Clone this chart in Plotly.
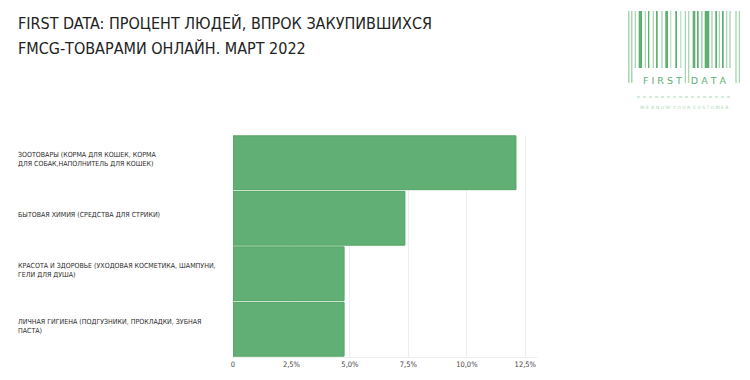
import plotly.graph_objects as go

# ---- data ----
categories = [
    "ЗООТОВАРЫ (КОРМА ДЛЯ КОШЕК, КОРМА<br>ДЛЯ СОБАК,НАПОЛНИТЕЛЬ ДЛЯ КОШЕК)",
    "БЫТОВАЯ ХИМИЯ (СРЕДСТВА ДЛЯ СТРИКИ)",
    "КРАСОТА И ЗДОРОВЬЕ (УХОДОВАЯ КОСМЕТИКА, ШАМПУНИ,<br>ГЕЛИ ДЛЯ ДУША)",
    "ЛИЧНАЯ ГИГИЕНА (ПОДГУЗНИКИ, ПРОКЛАДКИ, ЗУБНАЯ<br>ПАСТА)",
]
values = [12.1, 7.35, 4.75, 4.75]
tick_vals = [0, 2.5, 5.0, 7.5, 10.0, 12.5]
tick_text = ["0", "2,5%", "5,0%", "7,5%", "10,0%", "12,5%"]
title_lines = [
    "FIRST DATA: ПРОЦЕНТ ЛЮДЕЙ, ВПРОК ЗАКУПИВШИХСЯ",
    "FMCG-ТОВАРАМИ ОНЛАЙН. МАРТ 2022",
]

# ---- layout geometry ----
WIDTH, HEIGHT = 750, 380
L, R, T, B = 233, 213, 135, 23
PW = WIDTH - L - R
PH = HEIGHT - T - B

def px(x):
    return (x - L) / PW

def py(y):
    return (HEIGHT - B - y) / PH

FONT = "Liberation Sans Narrow, DejaVu Sans Condensed, Roboto Condensed, Arial Narrow, sans-serif"
GREEN = "#62AF75"
GREEN_LINE = "#52A565"
LOGO_DARK = "#5DB06F"
LOGO_LIGHT = "#A9D7B4"

fig = go.Figure()
fig.add_trace(go.Bar(
    x=values, y=categories, orientation="h",
    marker=dict(color=GREEN, line=dict(color=GREEN_LINE, width=1)),
    hoverinfo="x+y",
))

annotations = []
# title (two lines)
for line, yc in zip(title_lines, [23, 48]):
    annotations.append(dict(
        x=px(16), y=py(yc), xref="paper", yref="paper",
        text=line, showarrow=False, xanchor="left", yanchor="middle", align="left",
        font=dict(family=FONT, size=16, color="#222222"),
    ))

# category labels, left aligned
for c in categories:
    annotations.append(dict(
        x=px(16), xref="paper", y=c, yref="y", yshift=3,
        text=c, showarrow=False, xanchor="left", yanchor="middle", align="left",
        font=dict(family=FONT, size=7, color="#2A2A2A"),
    ))

# logo: barcode
bars = [
    (628, 629.5, 0, 1), (631, 632.5, 0, 1), (634.7, 636, 0, 0), (638.7, 642, 1, 0),
    (644.7, 646, 0, 0), (648, 649.3, 1, 0), (652.7, 654, 0, 0), (656, 657.7, 1, 0),
    (661.3, 662.7, 0, 0), (665.3, 668, 1, 0), (670.3, 671.3, 0, 0), (675.3, 677, 1, 0),
    (680.3, 681.3, 0, 0), (684.7, 686, 0, 1), (688, 689.3, 0, 1), (692.7, 695.3, 1, 0),
    (697, 698.7, 1, 0), (701, 702.7, 0, 0), (704.7, 709.3, 1, 0), (711.3, 712.7, 0, 0),
    (715.3, 717, 1, 0), (718.7, 720, 0, 0), (722, 723.7, 1, 0), (726, 727.3, 0, 0),
    (729.3, 730.7, 0, 0), (735.3, 736.7, 0, 1), (738.7, 740, 0, 1),
]
shapes = []
for x0, x1, dark, long_ in bars:
    shapes.append(dict(
        type="rect", xref="paper", yref="paper",
        x0=px(x0), x1=px(x1), y0=py(83 if long_ else 68), y1=py(11),
        fillcolor=LOGO_DARK if dark else LOGO_LIGHT, line=dict(width=0), layer="above",
    ))
shapes.append(dict(
    type="line", xref="paper", yref="paper",
    x0=px(637), x1=px(733), y0=py(97), y1=py(97),
    line=dict(color=LOGO_LIGHT, width=1, dash="dot"),
))
annotations.append(dict(
    x=px(684.5), y=py(80), xref="paper", yref="paper",
    text="F I R S T&nbsp;&nbsp;&nbsp;D A T A", showarrow=False,
    xanchor="center", yanchor="middle",
    font=dict(family="DejaVu Sans", size=9.5, color=LOGO_DARK),
))
annotations.append(dict(
    x=px(684), y=py(108), xref="paper", yref="paper",
    text="W E&nbsp;&nbsp;K N O W&nbsp;&nbsp;Y O U R&nbsp;&nbsp;C U S T O M E R", showarrow=False,
    xanchor="center", yanchor="middle",
    font=dict(family="DejaVu Sans", size=4.5, color=LOGO_LIGHT),
))

fig.update_layout(
    width=WIDTH, height=HEIGHT,
    margin=dict(l=L, r=R, t=T, b=B),
    paper_bgcolor="white", plot_bgcolor="white",
    showlegend=False,
    bargap=0.03,
    xaxis=dict(
        range=[0, 13], tickvals=tick_vals, ticktext=tick_text,
        showgrid=True, gridcolor="#EEEEEE", gridwidth=1,
        zeroline=False, showline=True, linecolor="#EEEEEE",
        ticks="", tickfont=dict(family=FONT, size=7.5, color="#444444"),
        fixedrange=True,
    ),
    yaxis=dict(
        autorange="reversed", showticklabels=False, showgrid=False,
        zeroline=False, ticks="", fixedrange=True,
    ),
    annotations=annotations,
    shapes=shapes,
)

fig.write_html(
    "out.html",
    config={"displayModeBar": False},
    post_script="document.body.style.margin='0';document.body.style.overflow='hidden';",
)
